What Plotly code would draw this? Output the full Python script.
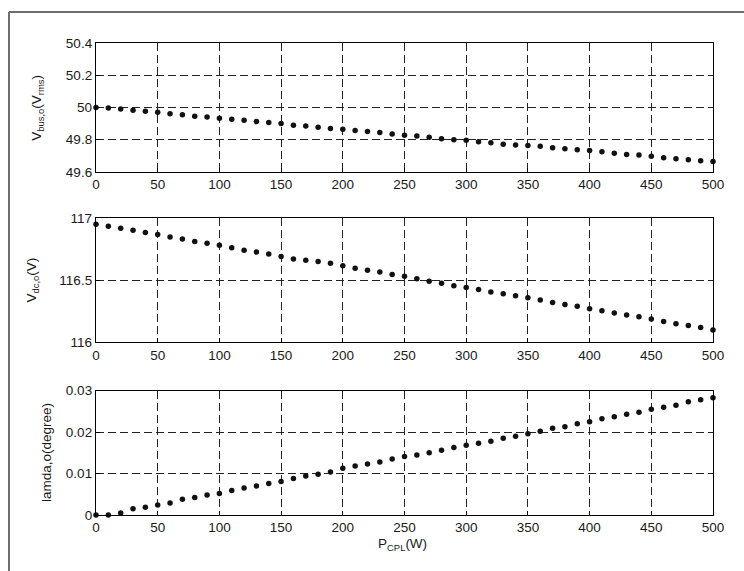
import plotly.graph_objects as go
from plotly.subplots import make_subplots

# Load power sweep (W)
p_cpl = list(range(0, 501, 10))

# Bus voltage at the operating point (Vrms)
v_bus = [50.000, 49.996, 49.990, 49.983, 49.976, 49.970, 49.961, 49.955, 49.946, 49.940,
         49.933, 49.927, 49.920, 49.912, 49.906, 49.900, 49.890, 49.884, 49.877, 49.869,
         49.865, 49.856, 49.850, 49.844, 49.835, 49.828, 49.822, 49.815, 49.806, 49.800,
         49.796, 49.787, 49.781, 49.772, 49.766, 49.764, 49.759, 49.750, 49.744, 49.738,
         49.732, 49.725, 49.716, 49.708, 49.704, 49.697, 49.688, 49.682, 49.675, 49.669,
         49.665]

# DC-link voltage at the operating point (V)
v_dc = [116.948, 116.932, 116.916, 116.900, 116.882, 116.866, 116.847, 116.831, 116.810, 116.795,
        116.780, 116.760, 116.740, 116.725, 116.710, 116.690, 116.670, 116.660, 116.650, 116.635,
        116.615, 116.595, 116.580, 116.565, 116.545, 116.530, 116.510, 116.490, 116.475, 116.455,
        116.440, 116.425, 116.405, 116.390, 116.374, 116.358, 116.340, 116.320, 116.305, 116.290,
        116.270, 116.255, 116.235, 116.220, 116.205, 116.187, 116.168, 116.150, 116.135, 116.120,
        116.100]

# Angle at the operating point (degree)
lamda = [0.0000, 0.0000, 0.0005, 0.0015, 0.0019, 0.0024, 0.0029, 0.0038, 0.0042, 0.0048,
         0.0052, 0.0059, 0.0065, 0.0070, 0.0076, 0.0081, 0.0088, 0.0094, 0.0098, 0.0104,
         0.0113, 0.0118, 0.0123, 0.0128, 0.0135, 0.0141, 0.0145, 0.0150, 0.0156, 0.0163,
         0.0168, 0.0173, 0.0178, 0.0185, 0.0190, 0.0196, 0.0202, 0.0209, 0.0213, 0.0220,
         0.0225, 0.0232, 0.0237, 0.0243, 0.0248, 0.0255, 0.0260, 0.0265, 0.0273, 0.0278,
         0.0283]

x_ticks = [0, 50, 100, 150, 200, 250, 300, 350, 400, 450, 500]
top_ticks = [49.6, 49.8, 50.0, 50.2, 50.4]
top_labels = ["49.6", "49.8", "50", "50.2", "50.4"]
mid_ticks = [116.0, 116.5, 117.0]
mid_labels = ["116", "116.5", "117"]
bot_ticks = [0, 0.01, 0.02, 0.03]
bot_labels = ["0", "0.01", "0.02", "0.03"]

FONT = "Liberation Sans, Arial, sans-serif"
INK = "#1a1a1a"
FSIZE = 13.5

fig = make_subplots(rows=3, cols=1)

for row, yvals in enumerate([v_bus, v_dc, lamda], start=1):
    fig.add_trace(go.Scatter(
        x=p_cpl, y=yvals, mode="markers",
        marker=dict(size=5.5, color="#111111"),
        showlegend=False, cliponaxis=False,
    ), row=row, col=1)

domains = [[0.727, 1.0], [0.3657, 0.6296], [0.0, 0.2635]]
yranges = [[49.6, 50.4], [116.0, 117.0], [0.0, 0.03]]
ytickv = [top_ticks, mid_ticks, bot_ticks]
ytickt = [top_labels, mid_labels, bot_labels]

axis_common = dict(
    showline=True, linecolor="black", linewidth=1.3, mirror=True,
    ticks="inside", ticklen=4, tickcolor="black",
    showgrid=True, gridcolor="#222222", griddash="8px,4px", gridwidth=1,
    zeroline=False,
    tickfont=dict(family=FONT, size=FSIZE, color=INK),
)

for i in range(3):
    fig.update_xaxes(
        range=[0, 500], tickvals=x_ticks, ticktext=[str(v) for v in x_ticks],
        row=i + 1, col=1, **axis_common,
    )
    fig.update_yaxes(
        range=yranges[i], domain=domains[i], tickvals=ytickv[i], ticktext=ytickt[i],
        row=i + 1, col=1, **axis_common,
    )

# Axis titles
title_font = dict(family=FONT, size=FSIZE, color=INK)
fig.add_annotation(text="V<sub>bus,o</sub>(V<sub>rms</sub>)", textangle=-90,
                   xref="paper", yref="paper", x=-0.095, y=0.8635,
                   showarrow=False, font=title_font, xanchor="center", yanchor="middle")
fig.add_annotation(text="V<sub>dc,o</sub>(V)", textangle=-90,
                   xref="paper", yref="paper", x=-0.103, y=0.4976,
                   showarrow=False, font=title_font, xanchor="center", yanchor="middle")
fig.add_annotation(text="lamda,o(degree)", textangle=-90,
                   xref="paper", yref="paper", x=-0.079, y=0.1317,
                   showarrow=False, font=title_font, xanchor="center", yanchor="middle")
fig.add_annotation(text="P<sub>CPL</sub>(W)", xref="paper", yref="paper",
                   x=0.497, y=-0.062, showarrow=False, font=title_font,
                   xanchor="center", yanchor="middle")

# Outer frame (left and top edges)
fig.add_shape(type="line", xref="paper", yref="paper",
              x0=-0.141, x1=-0.141, y0=1.0656, y1=-0.13,
              line=dict(color="#6e6e6e", width=2))
fig.add_shape(type="line", xref="paper", yref="paper",
              x0=-0.141, x1=1.06, y0=1.0656, y1=1.0656,
              line=dict(color="#6e6e6e", width=2))

fig.update_layout(
    width=744, height=571,
    margin=dict(l=96, r=31, t=43, b=55.5),
    paper_bgcolor="white", plot_bgcolor="white",
    font=dict(family=FONT, size=FSIZE, color=INK),
)

fig.write_html("out.html")
